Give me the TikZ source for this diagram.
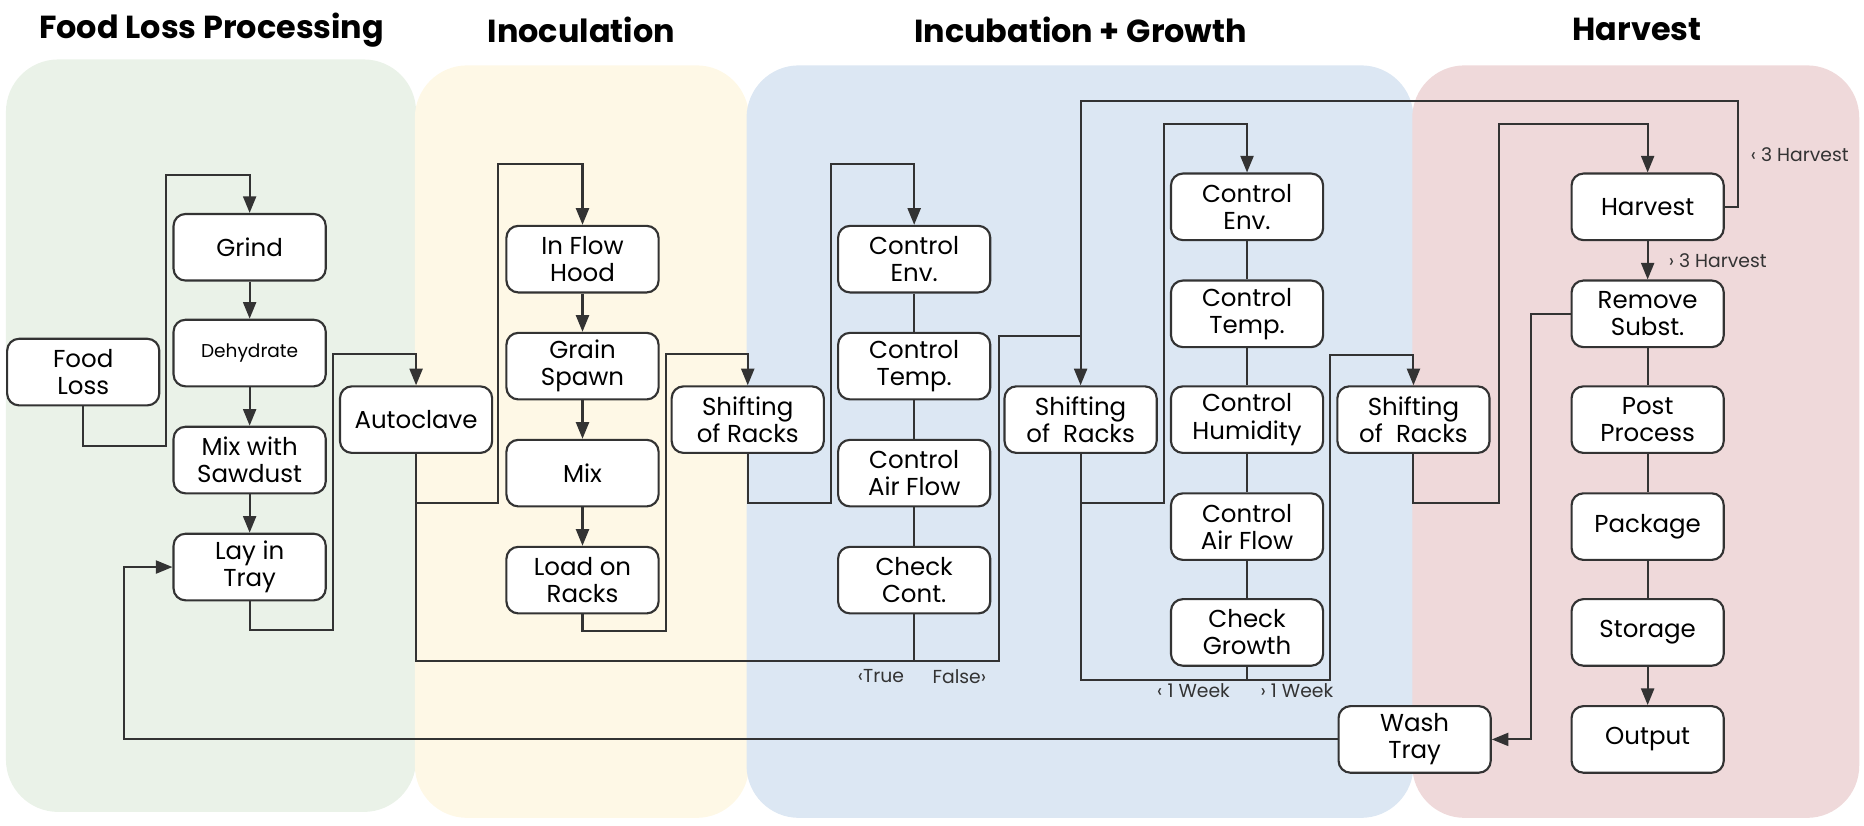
\documentclass[tikz,border=0pt]{standalone}
\usepackage{fontspec}
\setmainfont{Poppins}
\usetikzlibrary{arrows.meta}
\definecolor{greenbg}{HTML}{EAF2E8}
\definecolor{yellowbg}{HTML}{FEF8E6}
\definecolor{bluebg}{HTML}{DCE7F3}
\definecolor{pinkbg}{HTML}{EFD9DA}
\definecolor{ink}{HTML}{333333}
\begin{document}
\begin{tikzpicture}[x=0.5pt, y=-0.5pt,
    box/.style={draw=ink, line width=0.9pt, rounded corners=5pt, fill=white, minimum width=64pt, minimum height=28pt, inner sep=1pt, align=center, font=\fontsize{10.3}{11.4}\selectfont},
    link/.style={draw=ink, line width=0.85pt},
    arr/.style={link, -{Triangle[length=7pt, width=5.5pt]}},
    stagetitle/.style={font=\fontsize{13.4}{16}\selectfont\bfseries},
    note/.style={font=\fontsize{7.9}{9}\selectfont, text=ink}]
  \useasboundingbox (0,0) rectangle (1568,694);
  % stages
  \fill[greenbg, rounded corners=22pt] (5,50) rectangle (350,683);
  \fill[yellowbg, rounded corners=22pt] (349,55) rectangle (630,688);
  \fill[bluebg, rounded corners=22pt] (628,55) rectangle (1189,688);
  \fill[pinkbg, rounded corners=22pt] (1188,55) rectangle (1564,688);
  \node[stagetitle] (tloss) at (178,25) {Food Loss Processing};
  \node[stagetitle] (tinoc) at (489,25) {Inoculation};
  \node[stagetitle] (tincub) at (909,25) {Incubation + Growth};
  \node[stagetitle] (tharv) at (1377,25) {Harvest};

  % food loss processing
  \node[box] (loss) at (70,313) {Food\\Loss};
  \node[box] (grind) at (210,208) {Grind};
  \node[box, font=\fontsize{7.8}{9}\selectfont] (dehyd) at (210,297) {Dehydrate};
  \node[box] (mixsaw) at (210,387) {Mix with\\Sawdust};
  \node[box] (lay) at (210,477) {Lay in\\Tray};
  \draw[arr] (loss.south) |- (140,375) -- (140,147) -| (grind.north);
  \draw[arr] (grind) -- (dehyd);
  \draw[arr] (dehyd) -- (mixsaw);
  \draw[arr] (mixsaw) -- (lay);

  % inoculation
  \node[box] (auto) at (350,353) {Autoclave};
  \node[box] (hood) at (490,218) {In Flow\\Hood};
  \node[box] (grain) at (490,308) {Grain\\Spawn};
  \node[box] (mix) at (490,398) {Mix};
  \node[box] (load) at (490,488) {Load on\\Racks};
  \draw[arr] (lay.south) |- (280,530) -- (280,298) -| (auto.north);
  \draw[arr] (auto.south) |- (419,423) -- (419,138) -| (hood.north);
  \draw[arr] (hood) -- (grain);
  \draw[arr] (grain) -- (mix);
  \draw[arr] (mix) -- (load);

  % incubation + growth
  \node[box] (shift1) at (629,353) {Shifting\\of Racks};
  \node[box] (env1) at (769,218) {Control\\Env.};
  \node[box] (temp1) at (769,308) {Control\\Temp.};
  \node[box] (air1) at (769,398) {Control\\Air Flow};
  \node[box] (check1) at (769,488) {Check\\Cont.};
  \draw[arr] (load.south) |- (560,531) -- (560,298) -| (shift1.north);
  \draw[arr] (shift1.south) |- (699,423) -- (699,138) -| (env1.north);
  \draw[link] (env1) -- (temp1) -- (air1) -- (check1);
  \draw[link] (check1.south) |- (350,556) -- (auto.south);
  \draw[link] (check1.south) |- (840,556) |- (909,283);
  \node[note] (truelbl) at (741,569) {‹True};
  \node[note] (falselbl) at (807,569) {False›};

  \node[box] (shift2) at (909,353) {Shifting\\of\ \ Racks};
  \node[box] (env2) at (1049,174) {Control\\Env.};
  \node[box] (temp2) at (1049,264) {Control\\Temp.};
  \node[box] (humid) at (1049,353) {Control\\Humidity};
  \node[box] (air2) at (1049,443) {Control\\Air Flow};
  \node[box] (growth) at (1049,532) {Check\\Growth};
  \node[box] (shift3) at (1189,353) {Shifting\\of\ \ Racks};
  \draw[arr] (shift2.south) |- (979,423) -- (979,104) -| (env2.north);
  \draw[link] (env2) -- (temp2) -- (humid) -- (air2) -- (growth);
  \draw[link] (growth.south) |- (909,572) -- (shift2.south);
  \draw[arr] (growth.south) |- (1119,572) -- (1119,299) -| (shift3.north);
  \node[note] (lesswk) at (1004,581) {‹ 1 Week};
  \node[note] (morewk) at (1091,581) {› 1 Week};

  % harvest
  \node[box] (wash) at (1190,622) {Wash\\Tray};
  \node[box] (harvest) at (1386,174) {Harvest};
  \node[box] (remove) at (1386,264) {Remove\\Subst.};
  \node[box] (post) at (1386,353) {Post\\Process};
  \node[box] (package) at (1386,443) {Package};
  \node[box] (storage) at (1386,532) {Storage};
  \node[box] (output) at (1386,622) {Output};
  \draw[arr] (shift3.south) |- (1261,423) -- (1261,104) -| (harvest.north);
  \draw[arr] (harvest) -- (remove);
  \draw[arr] (harvest.east) -| (1462,85) -| (shift2.north);
  \node[note] (lessharv) at (1514,130) {‹ 3 Harvest};
  \node[note] (moreharv) at (1445,219) {› 3 Harvest};
  \draw[link] (remove) -- (post) -- (package) -- (storage);
  \draw[arr] (storage) -- (output);
  \draw[arr] (remove.west) -| (1288,622) -- (wash.east);
  \draw[arr] (wash.west) -| (104,477) -- (lay.west);
\end{tikzpicture}
\end{document}
